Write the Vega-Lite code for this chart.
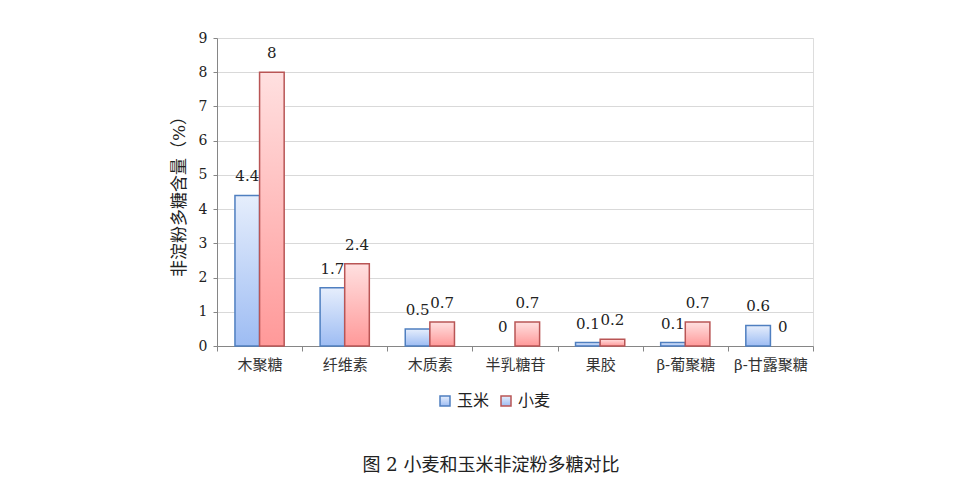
{
  "$schema": "https://vega.github.io/schema/vega-lite/v6.json",
  "autosize": {"type": "none"},
  "width": 596,
  "height": 308,
  "padding": {"left": 217, "top": 38, "right": 164, "bottom": 139},
  "background": "white",
  "data": {
    "values": [
      {"cat": "木聚糖", "series": "玉米", "value": 4.4},
      {"cat": "木聚糖", "series": "小麦", "value": 8},
      {"cat": "纤维素", "series": "玉米", "value": 1.7},
      {"cat": "纤维素", "series": "小麦", "value": 2.4},
      {"cat": "木质素", "series": "玉米", "value": 0.5},
      {"cat": "木质素", "series": "小麦", "value": 0.7},
      {"cat": "半乳糖苷", "series": "玉米", "value": 0},
      {"cat": "半乳糖苷", "series": "小麦", "value": 0.7},
      {"cat": "果胶", "series": "玉米", "value": 0.1},
      {"cat": "果胶", "series": "小麦", "value": 0.2},
      {"cat": "β-葡聚糖", "series": "玉米", "value": 0.1},
      {"cat": "β-葡聚糖", "series": "小麦", "value": 0.7},
      {"cat": "β-甘露聚糖", "series": "玉米", "value": 0.6},
      {"cat": "β-甘露聚糖", "series": "小麦", "value": 0}
    ]
  },
  "title": {
    "text": "图 2  小麦和玉米非淀粉多糖对比",
    "orient": "bottom",
    "anchor": "middle",
    "dx": -24,
    "offset": 48,
    "font": "DejaVu Serif, Noto Sans CJK SC",
    "fontSize": 18,
    "fontWeight": "normal",
    "color": "#222222"
  },
  "encoding": {
    "x": {
      "field": "cat",
      "type": "nominal",
      "title": null,
      "scale": {
        "domain": ["木聚糖", "纤维素", "木质素", "半乳糖苷", "果胶", "β-葡聚糖", "β-甘露聚糖"],
        "paddingInner": 0,
        "paddingOuter": 0
      },
      "axis": {
        "labelAngle": 0,
        "tickBand": "extent",
        "labelFont": "DejaVu Serif, Noto Sans CJK SC",
        "labelFontSize": 15,
        "labelColor": "#333333",
        "labelPadding": 6,
        "domainColor": "#868686",
        "tickColor": "#868686",
        "tickSize": 5,
        "grid": false
      }
    },
    "xOffset": {
      "field": "series",
      "type": "nominal",
      "scale": {"domain": ["玉米", "小麦"], "paddingInner": 0, "paddingOuter": 0.73}
    },
    "y": {
      "field": "value",
      "type": "quantitative",
      "title": "非淀粉多糖含量（%）",
      "scale": {"domain": [0, 9]},
      "axis": {
        "values": [0, 1, 2, 3, 4, 5, 6, 7, 8, 9],
        "labelFont": "DejaVu Serif",
        "labelFontSize": 14,
        "labelColor": "#222222",
        "labelPadding": 6,
        "tickSize": 4,
        "tickColor": "#868686",
        "domainColor": "#868686",
        "gridColor": "#d9d9d9",
        "titleFont": "DejaVu Serif, Noto Sans CJK SC",
        "titleFontSize": 17,
        "titleFontWeight": "normal",
        "titleColor": "#222222",
        "titlePadding": 10
      }
    }
  },
  "layer": [
    {
      "transform": [{"filter": "datum.series == '玉米' && datum.value > 0"}],
      "mark": {
        "type": "bar",
        "strokeWidth": 1.5,
        "fill": {
          "gradient": "linear", "x1": 0, "y1": 0, "x2": 0, "y2": 1,
          "stops": [{"offset": 0, "color": "#e6eefc"}, {"offset": 1, "color": "#9dbcf3"}]
        }
      },
      "encoding": {
        "stroke": {
          "field": "series",
          "type": "nominal",
          "scale": {"domain": ["玉米", "小麦"], "range": ["#4f7fc0", "#b95555"]},
          "legend": {
            "title": null,
            "orient": "none",
            "direction": "horizontal",
            "legendX": 220,
            "legendY": 355,
            "symbolType": "square",
            "symbolSize": 100,
            "symbolStrokeWidth": 1.5,
            "labelFont": "DejaVu Serif, Noto Sans CJK SC",
            "labelFontSize": 16,
            "labelColor": "#222222",
            "columnPadding": 8,
            "encode": {
              "symbols": {
                "update": {
                  "fill": {"signal": "datum.value == '玉米' ? '#c2d6f8' : '#ffc4c4'"},
                  "opacity": {"value": 1}
                }
              }
            }
          }
        }
      }
    },
    {
      "transform": [{"filter": "datum.series == '小麦' && datum.value > 0"}],
      "mark": {
        "type": "bar",
        "strokeWidth": 1.5,
        "fill": {
          "gradient": "linear", "x1": 0, "y1": 0, "x2": 0, "y2": 1,
          "stops": [{"offset": 0, "color": "#ffe0e0"}, {"offset": 1, "color": "#ff9999"}]
        }
      },
      "encoding": {
        "stroke": {
          "field": "series",
          "type": "nominal",
          "scale": {"domain": ["玉米", "小麦"], "range": ["#4f7fc0", "#b95555"]}
        }
      }
    },
    {
      "mark": {
        "type": "text",
        "baseline": "middle",
        "dy": -19,
        "font": "DejaVu Serif",
        "fontSize": 15,
        "color": "#222222"
      },
      "encoding": {
        "text": {"field": "value", "type": "quantitative"}
      }
    }
  ]
}
